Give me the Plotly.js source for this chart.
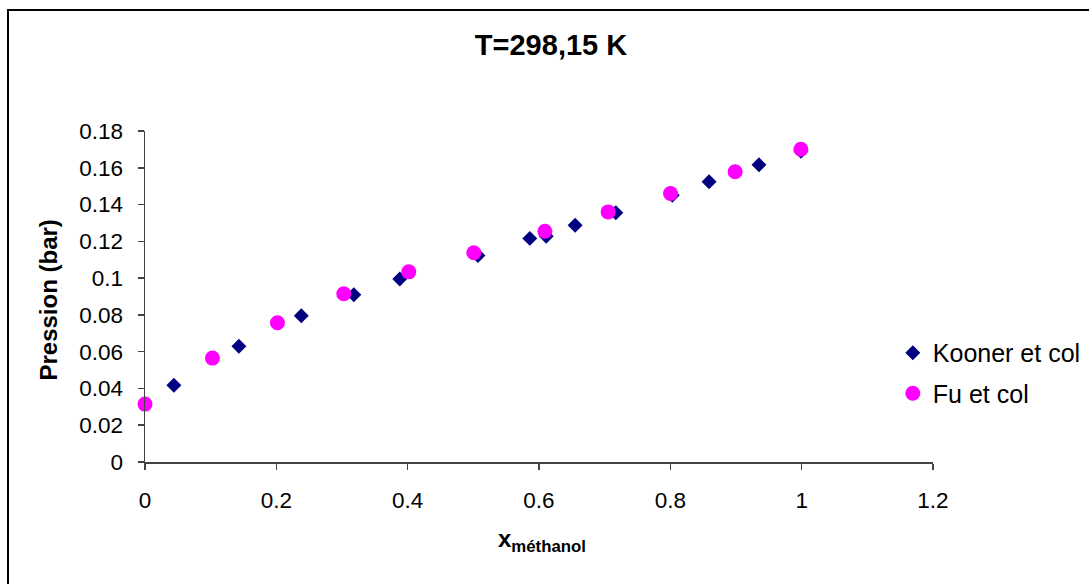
<!DOCTYPE html>
<html>
<head>
<meta charset="utf-8">
<script src="https://cdn.plot.ly/plotly-3.0.1.min.js"></script>
<style>
html,body{margin:0;padding:0;background:#fff;}
#wrap{position:relative;width:1089px;height:584px;overflow:hidden;}
#chart{position:absolute;left:0;top:0;width:1089px;height:584px;}
#frame{position:absolute;left:7px;top:9px;width:1200px;height:700px;border:2px solid #000;pointer-events:none;}
</style>
</head>
<body>
<div id="wrap"><div id="chart"></div><div id="frame"></div></div>
<script>
// Data
const koonerX = [0.044, 0.143, 0.238, 0.318, 0.388, 0.507, 0.586, 0.611, 0.655, 0.717, 0.803, 0.859, 0.935, 0.999];
const koonerY = [0.0417, 0.0629, 0.0795, 0.0909, 0.0995, 0.1123, 0.1216, 0.1228, 0.1288, 0.1355, 0.1451, 0.1524, 0.1616, 0.169];
const fuX = [0.0, 0.1027, 0.2017, 0.3027, 0.4017, 0.5007, 0.609, 0.7053, 0.8003, 0.8987, 0.9988];
const fuY = [0.0315, 0.0565, 0.0757, 0.0915, 0.1034, 0.1138, 0.1255, 0.136, 0.146, 0.1578, 0.1701];
const xTicks = [0, 0.2, 0.4, 0.6, 0.8, 1, 1.2];
const yTicks = [0, 0.02, 0.04, 0.06, 0.08, 0.1, 0.12, 0.14, 0.16, 0.18];
const seriesNames = ['Kooner et col', 'Fu et col'];
const chartTitle = 'T=298,15 K';
const yTitle = 'Pression (bar)';
const xTitle = 'x<sub>méthanol</sub>';

const FONT = 'Liberation Sans, Arial, sans-serif';

const traces = [
  {x: koonerX, y: koonerY, name: seriesNames[0], type: 'scatter', mode: 'markers',
   legendgroup: 'a', cliponaxis: false,
   marker: {symbol: 'diamond', size: 11.5, color: '#000080'}},
  {x: fuX, y: fuY, name: seriesNames[1], type: 'scatter', mode: 'markers',
   legendgroup: 'b', cliponaxis: false,
   marker: {symbol: 'circle', size: 15, color: '#FF00FF'}}
];

const layout = {
  width: 1089, height: 584,
  margin: {l: 145, r: 156, t: 131, b: 122, autoexpand: false},
  paper_bgcolor: 'rgba(0,0,0,0)', plot_bgcolor: 'rgba(0,0,0,0)',
  font: {family: FONT, color: '#000', size: 22},
  title: {text: '<b>' + chartTitle + '</b>', x: 0.506, xanchor: 'center', y: 0.923, yanchor: 'middle',
          font: {family: FONT, size: 29, color: '#000'}},
  xaxis: {range: [0, 1.2], tickvals: xTicks, ticktext: xTicks.map(String),
          showgrid: false, zeroline: false, showline: true, linecolor: '#444', linewidth: 1.5,
          ticks: 'outside', ticklen: 6, tickcolor: '#444', tickwidth: 1.5,
          ticklabelstandoff: 11, tickfont: {family: FONT, size: 22.5, color: '#000'}},
  yaxis: {range: [0, 0.18], tickvals: yTicks, ticktext: yTicks.map(String),
          showgrid: false, zeroline: false, showline: true, linecolor: '#444', linewidth: 1.5,
          ticks: 'outside', ticklen: 6, tickcolor: '#444', tickwidth: 1.5,
          ticklabelstandoff: 10, tickfont: {family: FONT, size: 22.5, color: '#000'}},
  showlegend: true,
  legend: {x: 0.949, xanchor: 'left', y: 0.269, yanchor: 'middle',
           font: {family: FONT, size: 25, color: '#000'}, itemwidth: 30,
           traceorder: 'grouped', tracegroupgap: 5, bgcolor: 'rgba(0,0,0,0)'},
  annotations: [
    {text: '<b>' + yTitle + '</b>', textangle: -90, xref: 'paper', yref: 'paper',
     x: -0.1226, y: 0.489, xanchor: 'center', yanchor: 'middle', showarrow: false,
     font: {family: FONT, size: 24, color: '#000'}},
    {text: '<b>' + xTitle + '</b>', xref: 'paper', yref: 'paper',
     x: 0.5035, y: -0.238, xanchor: 'center', yanchor: 'middle', showarrow: false,
     font: {family: FONT, size: 24, color: '#000'}}
  ]
};

Plotly.newPlot('chart', traces, layout, {displayModeBar: false, staticPlot: true});
</script>
</body>
</html>
